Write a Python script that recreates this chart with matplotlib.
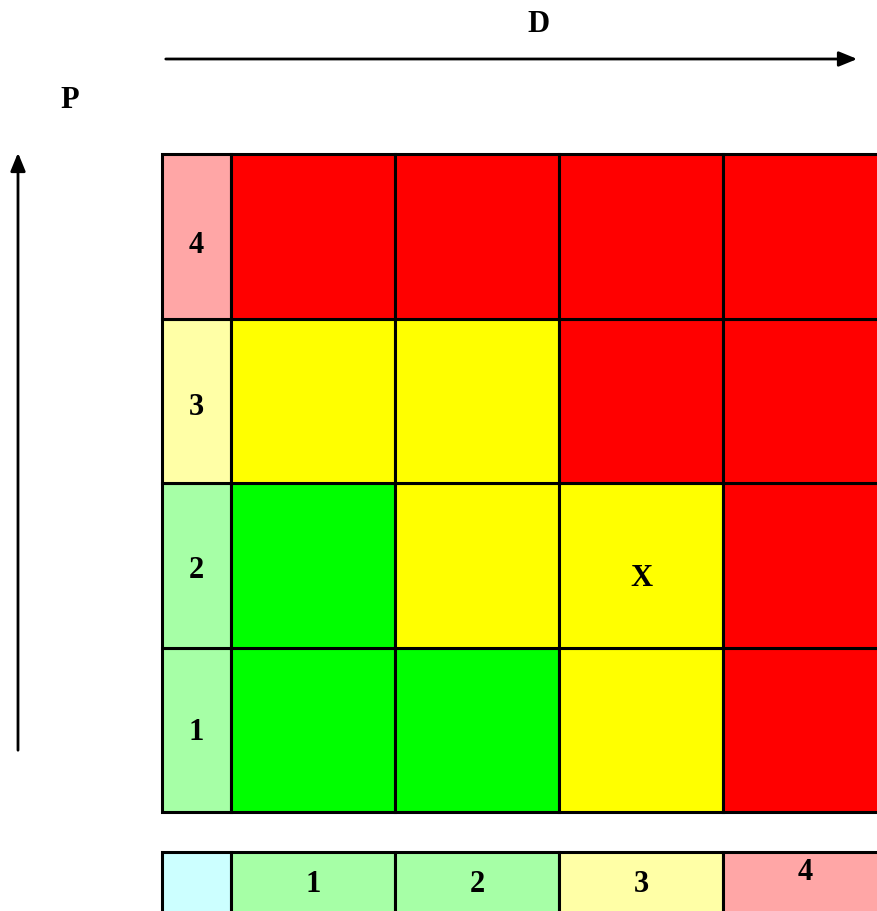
import matplotlib.pyplot as plt
from matplotlib.patches import Rectangle

# risk matrix: rows are P = 1..4 (bottom to top), columns are D = 1..4
p_labels = ['1', '2', '3', '4']
d_labels = ['1', '2', '3', '4']
levels = [
    ['G', 'G', 'Y', 'R'],   # P = 1
    ['G', 'Y', 'Y', 'R'],   # P = 2
    ['Y', 'Y', 'R', 'R'],   # P = 3
    ['R', 'R', 'R', 'R'],   # P = 4
]
marker_cell = (2, 3)   # (P, D) where the X goes
marker_text = 'X'

strong = {'G': '#00ff00', 'Y': '#ffff00', 'R': '#ff0000'}
light = {'G': '#a6ffa6', 'Y': '#ffffa6', 'R': '#ffa6a6'}
p_level = ['G', 'G', 'Y', 'R']
d_level = ['G', 'G', 'Y', 'R']
corner_color = '#ccffff'

# layout in pixels
left = 162
lab_w = 69
cell_w = 164
top = 154
cell_h = 164.5
strip_top = 852
strip_h = 70
lw = 2.2

plt.rcParams['font.family'] = ['Liberation Serif', 'DejaVu Serif']
fig = plt.figure(figsize=(8.78, 9.11), dpi=100)
ax = fig.add_axes([0, 0, 1, 1])
ax.set_xlim(0, 878)
ax.set_ylim(911, 0)
ax.axis('off')

fs = 22
n = len(p_labels)

# P label column and main grid
for i in range(n):
    y0 = top + (n - 1 - i) * cell_h
    ax.add_patch(Rectangle((left, y0), lab_w, cell_h, facecolor=light[p_level[i]],
                           edgecolor='black', lw=lw))
    ax.text(left + lab_w / 2, y0 + cell_h / 2 + 3 + 2 * i, p_labels[i], ha='center', va='center',
            fontsize=fs, fontweight='bold')
    for j in range(len(d_labels)):
        x0 = left + lab_w + j * cell_w
        ax.add_patch(Rectangle((x0, y0), cell_w, cell_h, facecolor=strong[levels[i][j]],
                               edgecolor='black', lw=lw))

# marker
mi, mj = marker_cell[0] - 1, marker_cell[1] - 1
ax.text(left + lab_w + (mj + 0.5) * cell_w, top + (n - 1 - mi + 0.5) * cell_h + 13,
        marker_text, ha='center', va='center', fontsize=fs, fontweight='bold')

# D label strip at the bottom
ax.add_patch(Rectangle((left, strip_top), lab_w, strip_h, facecolor=corner_color,
                       edgecolor='black', lw=lw))
for j in range(len(d_labels)):
    x0 = left + lab_w + j * cell_w
    ax.add_patch(Rectangle((x0, strip_top), cell_w, strip_h, facecolor=light[d_level[j]],
                           edgecolor='black', lw=lw))
    dy = 21 if j == len(d_labels) - 1 else 33
    ax.text(x0 + cell_w / 2, strip_top + dy, d_labels[j], ha='center', va='center',
            fontsize=fs, fontweight='bold')

# axis arrows and their names
head = '-|>,head_length=1.1,head_width=0.45'
ax.annotate('', xy=(860, 59), xytext=(163, 59),
            arrowprops=dict(arrowstyle=head, lw=2, color='black'))
ax.text(539, 25, 'D', ha='center', va='center', fontsize=fs, fontweight='bold')
ax.annotate('', xy=(18, 150), xytext=(18, 753),
            arrowprops=dict(arrowstyle=head, lw=2, color='black'))
ax.text(70, 100, 'P', ha='center', va='center', fontsize=fs, fontweight='bold')

fig.savefig('out.png', dpi=100)
